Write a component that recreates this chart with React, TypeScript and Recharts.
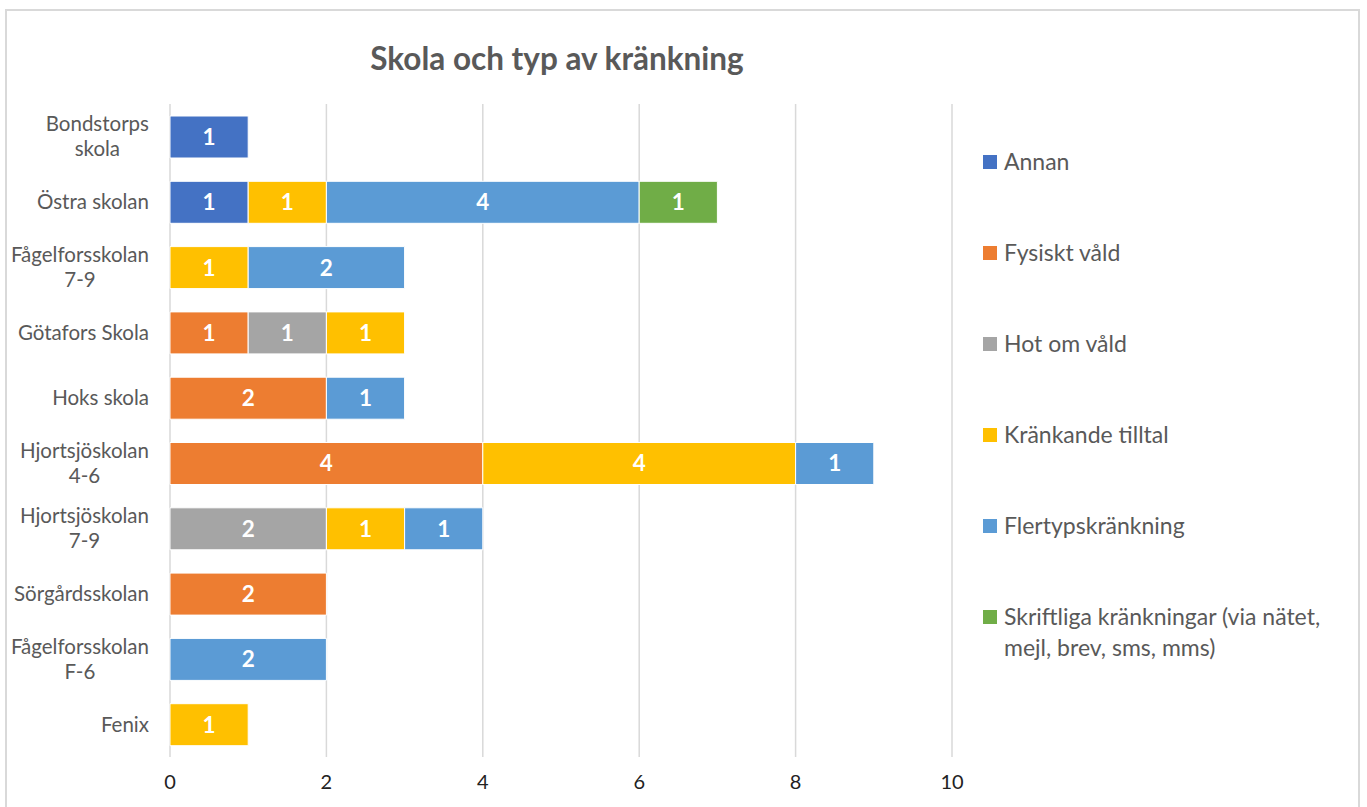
import React from "react";
import { Bar, BarChart, CartesianGrid, LabelList, Legend, XAxis, YAxis } from "recharts";

// Skolor, uppifrån och ned som i originalet
const categories = [
  "Bondstorps skola",
  "Östra skolan",
  "Fågelforsskolan 7-9",
  "Götafors Skola",
  "Hoks skola",
  "Hjortsjöskolan 4-6",
  "Hjortsjöskolan 7-9",
  "Sörgårdsskolan",
  "Fågelforsskolan F-6",
  "Fenix",
];

const annan = [1, 1, 0, 0, 0, 0, 0, 0, 0, 0];
const fysisktVald = [0, 0, 0, 1, 2, 4, 0, 2, 0, 0];
const hotOmVald = [0, 0, 0, 1, 0, 0, 2, 0, 0, 0];
const krankandeTilltal = [0, 1, 1, 1, 0, 4, 1, 0, 0, 1];
const flertyp = [0, 4, 2, 0, 1, 1, 1, 0, 2, 0];
const skriftliga = [0, 1, 0, 0, 0, 0, 0, 0, 0, 0];

const xTicks = [0, 2, 4, 6, 8, 10];

const series = [
  { key: "annan", name: "Annan", color: "#4472C4", values: annan },
  { key: "fysiskt", name: "Fysiskt våld", color: "#ED7D31", values: fysisktVald },
  { key: "hot", name: "Hot om våld", color: "#A5A5A5", values: hotOmVald },
  { key: "krankande", name: "Kränkande tilltal", color: "#FFC000", values: krankandeTilltal },
  { key: "flertyp", name: "Flertypskränkning", color: "#5B9BD5", values: flertyp },
  {
    key: "skriftliga",
    name: "Skriftliga kränkningar (via nätet, mejl, brev, sms, mms)",
    color: "#70AD47",
    values: skriftliga,
  },
];

const rows = categories.map((name, i) => {
  const row: Record<string, string | number> = { name };
  series.forEach((s) => {
    row[s.key] = s.values[i];
  });
  return row;
});

const FONT = "Lato, 'Open Sans', sans-serif";
const GREY = "#595959";
const CAT_SIZE = 20.5;

let measureCtx: CanvasRenderingContext2D | null = null;
function textWidth(t: string, size: number): number {
  if (!measureCtx) measureCtx = document.createElement("canvas").getContext("2d");
  if (!measureCtx) return t.length * size * 0.5;
  measureCtx.font = `${size}px Lato`;
  return measureCtx.measureText(t).width;
}

// långa namn bryts vid sista mellanslaget, som i Excel-originalet
function wrapLabel(name: string): string[] {
  if (name.length <= 14 || name.indexOf(" ") < 0) return [name];
  const cut = name.lastIndexOf(" ");
  return [name.slice(0, cut), name.slice(cut + 1)];
}

function CategoryTick(props: any) {
  const { x, y, payload } = props;
  const lines = wrapLabel(String(payload.value));
  if (lines.length === 1) {
    return (
      <text x={x} y={y} dy="0.35em" textAnchor="end" fill={GREY} fontSize={CAT_SIZE} fontFamily={FONT}>
        {lines[0]}
      </text>
    );
  }
  const w = Math.max(...lines.map((l) => textWidth(l, CAT_SIZE)));
  const cx = x - w / 2;
  return (
    <text textAnchor="middle" fill={GREY} fontSize={CAT_SIZE} fontFamily={FONT}>
      {lines.map((l, i) => (
        <tspan key={i} x={cx} y={y + (i - (lines.length - 1) / 2) * 25} dy="0.35em">
          {l}
        </tspan>
      ))}
    </text>
  );
}

function LegendBox(props: any) {
  const payload = [...(props.payload || [])];
  const order = series.map((s) => s.name);
  payload.sort((a: any, b: any) => order.indexOf(a.value) - order.indexOf(b.value));
  return (
    <div style={{ fontFamily: FONT, fontSize: 23, color: GREY }}>
      {payload.map((p: any) => (
        <div key={p.value} style={{ height: 91, display: "flex", alignItems: "flex-start" }}>
          <span
            style={{
              width: 14,
              height: 14,
              background: p.color,
              marginTop: 8.5,
              marginRight: 7,
              flex: "none",
            }}
          />
          <span style={{ lineHeight: "31px", width: 345 }}>{p.value}</span>
        </div>
      ))}
    </div>
  );
}

export default function App() {
  return (
    <div
      style={{
        position: "absolute",
        left: 0,
        top: 0,
        width: 1367,
        height: 807,
        overflow: "hidden",
        background: "#fff",
      }}
    >
      <div
        style={{
          position: "absolute",
          left: 5,
          top: 9,
          width: 1351,
          height: 840,
          border: "2px solid #d9d9d9",
        }}
      />
      <div
        style={{
          position: "absolute",
          left: 307,
          top: 38,
          width: 500,
          textAlign: "center",
          fontFamily: FONT,
          fontWeight: 700,
          fontSize: 31.5,
          color: GREY,
          lineHeight: "40px",
        }}
      >
        Skola och typ av kränkning
      </div>
      <div style={{ position: "absolute", left: 0, top: 0 }}>
        <BarChart
          width={1367}
          height={807}
          data={rows}
          layout="vertical"
          margin={{ top: 104, right: 415, bottom: 0, left: 0 }}
          barSize={42}
        >
          <CartesianGrid horizontal={false} vertical stroke="#d9d9d9" strokeWidth={1.5} />
          <XAxis
            type="number"
            domain={[0, 10]}
            ticks={xTicks}
            height={50}
            axisLine={false}
            tickLine={false}
            tickSize={0}
            tickMargin={18}
            tick={{ fill: "#222", fontSize: 20, fontFamily: FONT }}
          />
          <YAxis
            type="category"
            dataKey="name"
            width={170}
            axisLine={false}
            tickLine={false}
            tickSize={0}
            tickMargin={21}
            interval={0}
            tick={<CategoryTick />}
          />
          <Legend
            layout="horizontal"
            verticalAlign="middle"
            align="center"
            content={<LegendBox />}
            wrapperStyle={{ position: "absolute", left: 983, top: 146, width: 380 }}
          />
          {series.map((s) => (
            <Bar
              key={s.key}
              dataKey={s.key}
              name={s.name}
              stackId="a"
              fill={s.color}
              stroke="#fff"
              strokeWidth={1}
              isAnimationActive={false}
            >
              <LabelList
                dataKey={s.key}
                position="center"
                fill="#fff"
                fontSize={22.5}
                fontWeight={700}
                fontFamily={FONT}
                formatter={(v: any) => (v ? v : "")}
              />
            </Bar>
          ))}
        </BarChart>
      </div>
    </div>
  );
}
